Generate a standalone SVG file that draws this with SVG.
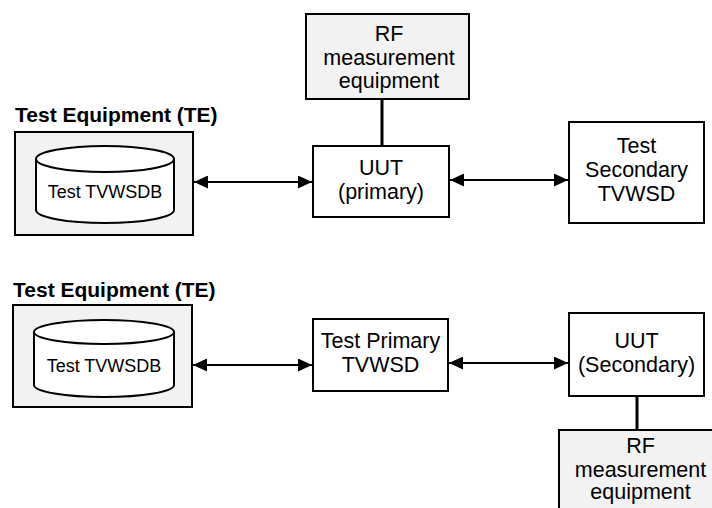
<svg xmlns="http://www.w3.org/2000/svg" width="712" height="508" viewBox="0 0 712 508">
<defs>
<marker id="ah" viewBox="0 0 14 13" refX="14" refY="6.5" markerWidth="14" markerHeight="13" markerUnits="userSpaceOnUse" orient="auto-start-reverse">
<path d="M0,0 L14,6.5 L0,13 Z" fill="#000"/>
</marker>
<style>
.box{fill:#fff;stroke:#000;stroke-width:2}
.grey{fill:#f2f2f2;stroke:#000;stroke-width:2}
.cyl{fill:#fff;stroke:#000;stroke-width:2}
.t{font-family:"Liberation Sans",Arial,sans-serif;font-size:21.5px;fill:#000;text-anchor:middle}
.s{font-family:"Liberation Sans",Arial,sans-serif;font-size:18px;fill:#000;text-anchor:middle}
.h{font-family:"Liberation Sans",Arial,sans-serif;font-size:21px;font-weight:bold;fill:#000}
.arr{stroke:#000;stroke-width:2;fill:none;marker-start:url(#ah);marker-end:url(#ah)}
.ln{stroke:#000;stroke-width:3;fill:none}
</style>
</defs>
<rect width="712" height="508" fill="#fff"/>

<g id="connectors">
<line class="arr" x1="194" y1="182" x2="312" y2="182"/>
<line class="arr" x1="450" y1="180" x2="568" y2="180"/>
<line class="ln" x1="382" y1="99" x2="382" y2="146"/>
<line class="arr" x1="193" y1="365" x2="312" y2="365"/>
<line class="arr" x1="449" y1="363" x2="568" y2="363"/>
<line class="ln" x1="637" y1="396" x2="637" y2="430"/>
</g>

<g id="te1">
<text class="h" x="15" y="122">Test Equipment (TE)</text>
<rect class="grey" x="15" y="132" width="178" height="103"/>
<g id="db1">
<path class="cyl" d="M36,159 A69,13 0 0 1 174,159 L174,210 A69,13 0 0 1 36,210 Z"/>
<path class="cyl" d="M36,159 A69,13 0 0 0 174,159" fill="none"/>
<text class="s" x="105" y="198">Test TVWSDB</text>
</g>
</g>

<g id="rf1">
<rect class="grey" x="306" y="14" width="163" height="85"/>
<text class="t" x="389" y="41">RF</text>
<text class="t" x="389" y="65">measurement</text>
<text class="t" x="389" y="88">equipment</text>
</g>

<g id="uut1">
<rect class="box" x="313" y="146" width="136" height="71"/>
<text class="t" x="381" y="175">UUT</text>
<text class="t" x="381" y="199">(primary)</text>
</g>

<g id="sec1">
<rect class="box" x="569" y="122" width="135" height="101"/>
<text class="t" x="636.5" y="153">Test</text>
<text class="t" x="636.5" y="177">Secondary</text>
<text class="t" x="636.5" y="201">TVWSD</text>
</g>

<g id="te2">
<text class="h" x="13" y="297">Test Equipment (TE)</text>
<rect class="grey" x="13" y="305" width="179" height="102"/>
<g id="db2">
<path class="cyl" d="M34,332 A70,12 0 0 1 174,332 L174,385 A70,12 0 0 1 34,385 Z"/>
<path class="cyl" d="M34,332 A70,12 0 0 0 174,332" fill="none"/>
<text class="s" x="104" y="372">Test TVWSDB</text>
</g>
</g>

<g id="prim2">
<rect class="box" x="313" y="319" width="135" height="72"/>
<text class="t" x="380.5" y="348">Test Primary</text>
<text class="t" x="380.5" y="372">TVWSD</text>
</g>

<g id="uut2">
<rect class="box" x="569" y="313" width="135" height="83"/>
<text class="t" x="636.5" y="348">UUT</text>
<text class="t" x="636.5" y="372">(Secondary)</text>
</g>

<g id="rf2">
<rect class="grey" x="559" y="430" width="163" height="90"/>
<text class="t" x="640.5" y="453">RF</text>
<text class="t" x="640.5" y="477">measurement</text>
<text class="t" x="640.5" y="499">equipment</text>
</g>
</svg>
